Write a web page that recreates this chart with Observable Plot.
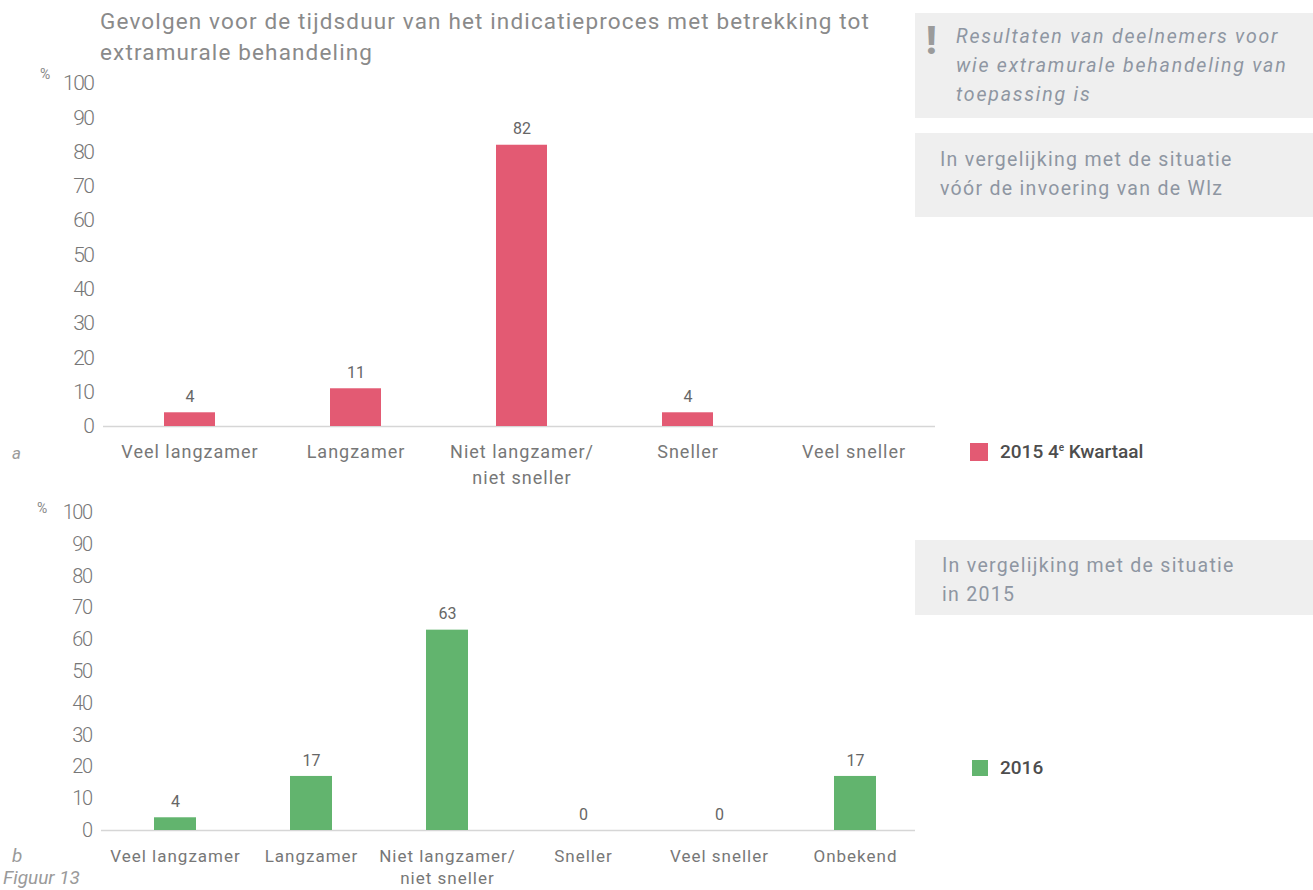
<!DOCTYPE html>
<html><head><meta charset="utf-8">
<script src="https://cdn.jsdelivr.net/npm/d3@7"></script>
<script src="https://cdn.jsdelivr.net/npm/@observablehq/plot@0.6"></script>
<style>
body{margin:0;background:#fff;font-family:Roboto,sans-serif;}
#root{position:relative;width:1313px;height:890px;overflow:hidden;background:#fff;}
.abs{position:absolute;white-space:nowrap;}
.box{position:absolute;background:#efefef;}
.note{color:#8e96a2;font-size:19.5px;line-height:29px;letter-spacing:1.3px;}
.title{color:#8a8a8a;font-size:22.5px;line-height:31px;letter-spacing:1.15px;}
.legend{color:#4d4d4d;font-size:19px;font-weight:500;}
.sw{position:absolute;width:18px;height:18px;}
.pct{color:#888;font-size:14px;}
.it{color:#9a9a9a;font-style:italic;font-size:19px;}
svg{position:absolute;overflow:visible;}
g[aria-label="x-axis tick label"] text{letter-spacing:1px;}
g[aria-label="y-axis tick label"] text{letter-spacing:-1.5px;font-weight:300;}
</style></head><body><div id="root">
<div class="abs title" style="left:100px;top:6px;">Gevolgen voor de tijdsduur van het indicatieproces met betrekking tot<br>extramurale behandeling</div>
<div class="box" style="left:915px;top:13px;width:398px;height:105px;"></div>
<div class="abs" style="left:926px;top:20px;color:#9b9b9b;font-size:38px;font-weight:900;line-height:42px;">!</div>
<div class="abs note" style="left:956px;top:22px;font-style:italic;letter-spacing:1.8px;">Resultaten van deelnemers voor<br>wie extramurale behandeling van<br>toepassing is</div>
<div class="box" style="left:915px;top:133px;width:398px;height:84px;"></div>
<div class="abs note" style="left:940px;top:145px;">In vergelijking met de situatie<br>vóór de invoering van de Wlz</div>
<div class="box" style="left:915px;top:540px;width:398px;height:75px;"></div>
<div class="abs note" style="left:942px;top:551px;">In vergelijking met de situatie<br>in 2015</div>
<div class="sw" id="swA" style="left:970px;top:443px;"></div>
<div class="abs legend" style="left:1000px;top:440px;">2015 4<sup style="font-size:10px;">e</sup> Kwartaal</div>
<div class="sw" id="swB" style="left:972px;top:760px;width:16px;height:16px;"></div>
<div class="abs legend" style="left:1000px;top:756px;">2016</div>
<div class="abs pct" style="left:40px;top:66px;">%</div>
<div class="abs pct" style="left:37px;top:500px;">%</div>
<div class="abs it" style="left:12px;top:443px;font-size:17px;">a</div>
<div class="abs it" style="left:12px;top:844px;">b</div>
<div class="abs it" style="left:3px;top:866px;">Figuur 13</div>
</div>
<script>
const catsA = ["Veel langzamer", "Langzamer", "Niet langzamer/\nniet sneller", "Sneller", "Veel sneller"];
const valsA = [4, 11, 82, 4, null];
const catsB = ["Veel langzamer", "Langzamer", "Niet langzamer/\nniet sneller", "Sneller", "Veel sneller", "Onbekend"];
const valsB = [4, 17, 63, 0, 0, 17];
const yTicks = [0, 10, 20, 30, 40, 50, 60, 70, 80, 90, 100];
const red = "#e35a73";
const green = "#62b46e";

document.getElementById("swA").style.background = red;
document.getElementById("swB").style.background = green;

const dataA = catsA.map((c, i) => ({cat: c, value: valsA[i]}));
const dataB = catsB.map((c, i) => ({cat: c, value: valsB[i]}));

function panel(data, cats, color, o) {
  const svg = Plot.plot({
    width: 1313, height: o.height,
    marginLeft: o.left, marginRight: 1313 - o.right, marginTop: o.top, marginBottom: o.bottom,
    style: {background: "transparent", fontFamily: "Roboto, sans-serif", color: "#777", overflow: "visible"},
    x: {domain: cats, range: o.xr, paddingInner: 0.69, paddingOuter: 0.345, axis: null},
    y: {domain: [0, 100], axis: null},
    marks: [
      Plot.ruleY([0], {stroke: "#d6d6d6", strokeWidth: 1.5}),
      Plot.barY(data.filter(d => d.value != null), {x: "cat", y: "value", fill: color}),
      Plot.text(data.filter(d => d.value != null), {x: "cat", y: "value", text: d => String(d.value), dy: -16, fontSize: o.vfs, fill: "#666"}),
      Plot.axisY({ticks: yTicks, tickSize: 0, tickPadding: 0, dx: o.dx, fontSize: o.yfs, label: null}),
      Plot.axisX({tickSize: 0, tickPadding: o.tp, fontSize: o.xfs, lineHeight: o.lh, label: null})
    ]
  });
  svg.style.left = "0px";
  svg.style.top = o.y + "px";
  document.getElementById("root").appendChild(svg);
}

panel(dataA, catsA, red, {y: 60, height: 440, top: 23, bottom: 74, left: 103, right: 935, xr: [107, 937], dx: -10, yfs: 21, xfs: 18, vfs: 16, tp: 14, lh: 1.4});
panel(dataB, catsB, green, {y: 490, height: 400, top: 22, bottom: 60, left: 101, right: 915, xr: [107, 924], dx: -10, yfs: 20, xfs: 17, vfs: 16, tp: 16, lh: 1.3});
</script>
</body></html>
